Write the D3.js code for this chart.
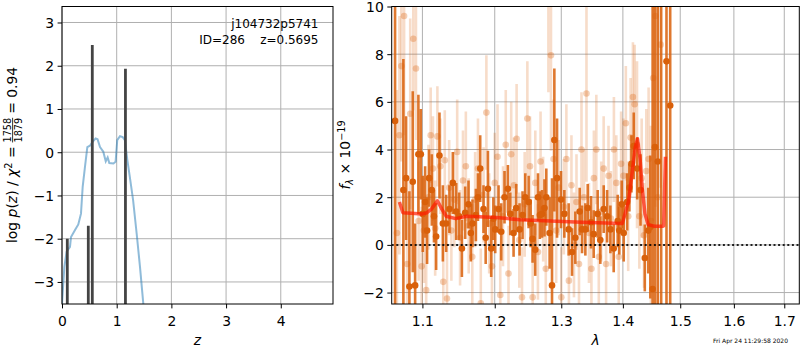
<!DOCTYPE html>
<html lang="en">
<head>
<meta charset="UTF-8">
<title>Redshift fit</title>
<script src="https://d3js.org/d3.v7.min.js"></script>
<style>
  body { margin: 0; background: #fff; }
  svg { display: block; font-family: "DejaVu Sans", sans-serif; }
  .tick line { stroke: #000; }
</style>
</head>
<body>
<div id="chart"></div>
<script>
// ---- left panel: redshift PDF ----
const zGrid = [0.0, 0.012, 0.043, 0.085, 0.146, 0.165, 0.238, 0.298, 0.347, 0.378, 0.42, 0.463, 0.51, 0.56,
  0.615, 0.65, 0.695, 0.755, 0.80, 0.835, 0.865, 0.94, 0.98, 1.01, 1.06, 1.11, 1.15, 1.195, 1.24, 1.30,
  1.365, 1.426, 1.49];
const chiCurve = [-3.5, -3.26, -2.65, -2.30, -2.19, -1.96, -1.80, -1.67, -1.42, -0.80, -0.34, 0.12, 0.15, 0.24,
  0.32, 0.30, 0.12, 0.01, -0.21, -0.12, -0.25, -0.26, -0.22, 0.28, 0.37, 0.35, 0.28, -0.18, -0.57, -1.11,
  -1.88, -2.65, -3.55];
const peakZ = [0.097, 0.481, 0.554, 1.16];
const peakLogP = [-2.0, -1.7, 2.48, 1.93];
const zTicks = [0, 1, 2, 3, 4];
const logTicks = [-3, -2, -1, 0, 1, 2, 3];

// ---- right panel: spectrum ----
// [wavelength, flux, error]
const darkSpec = [
  [1.0644,5.2,20],[1.0751,2.3,5.5],[1.0786,2.8,2.6],[1.0829,-1.75,4.0],[1.0873,2.65,3.8],[1.0904,-1.7,2.6],
  [1.0947,3.8,2.5],[1.0979,3.8,1.9],[1.1005,1.3,1.6],[1.1036,1.8,1.5],[1.1062,0.6,1.4],[1.1089,2.8,1.2],
  [1.1125,2.3,1.5],[1.1154,1.2,1.1],[1.1183,0.35,1.4],[1.1228,3.75,1.8],[1.1274,0.9,1.6],[1.1319,0.9,1.2],
  [1.1364,1.5,1.0],[1.1410,2.6,1.3],[1.1456,1.4,1.2],[1.1497,1.2,1.0],[1.1535,-0.15,1.2],[1.1581,1.35,1.1],
  [1.1627,1.7,1.0],[1.1660,0.5,1.2],[1.1683,0.9,1.0],[1.1731,1.25,1.1],[1.1760,2.0,1.0],[1.1792,3.2,1.4],
  [1.1839,1.5,1.0],[1.1870,0.3,1.1],[1.1902,2.35,1.6],[1.1949,-0.15,1.2],[1.1980,1.1,0.9],[1.2007,0.65,1.0],
  [1.2055,1.5,1.0],[1.2094,0.55,1.2],[1.2142,2.0,1.1],[1.2192,2.35,1.0],[1.2226,1.3,0.9],[1.2275,0.5,1.0],
  [1.2314,1.55,1.0],[1.2364,0.65,1.1],[1.2408,1.25,1.0],[1.2449,2.0,1.0],[1.2499,1.8,1.1],[1.2530,0.9,1.0],
  [1.2559,0.25,1.0],[1.2599,-0.2,1.1],[1.2641,2.0,1.0],[1.2670,1.25,1.0],[1.2702,1.3,1.0],[1.2740,1.55,1.2],
  [1.2768,2.0,1.2],[1.2819,0.5,1.5],[1.2856,-1.7,4.5],[1.2892,4.4,3.0],[1.2934,2.8,2.5],[1.2996,1.9,1.2],
  [1.3048,1.3,1.0],[1.3116,0.65,1.1],[1.3169,-0.3,1.0],[1.3222,0.3,1.1],[1.3291,1.4,1.0],[1.3329,0.65,1.0],
  [1.3382,0.65,1.1],[1.3420,1.55,1.0],[1.3474,0.95,1.1],[1.3517,0.45,1.0],[1.3582,1.3,1.0],[1.3625,0.2,1.0],
  [1.3681,1.5,1.0],[1.3737,1.2,1.1],[1.3791,0.65,1.0],[1.3846,-0.15,1.0],[1.3913,1.0,1.1],[1.3940,0.6,1.0],
  [1.3980,1.7,1.0],[1.4014,0.5,1.2],[1.4072,1.8,1.2],[1.4110,2.4,1.0],[1.4145,3.4,1.2],[1.4184,4.15,1.4],
  [1.4243,3.2,1.3],[1.4300,2.3,1.5],[1.4374,-0.55,1.4],[1.4434,0.6,1.8],[1.4470,0.75,3.0],[1.4510,-1.85,15],
  [1.4550,4.1,15],[1.4600,3.5,15],[1.4660,12,15],[1.4754,7.7,15],[1.4820,5.85,15]
];
const lightSpec = [
  [1.0668,0.5,6],[1.0700,4.6,5],[1.0725,7.5,4],[1.0760,9.6,5],[1.0800,-0.8,3.5],[1.0840,5.5,4],
  [1.0880,8.65,3],[1.0915,7.4,3],[1.0950,1.0,2.5],[1.0990,-0.9,2.5],[1.1020,0.6,2.2],[1.1050,-1.9,2.5],
  [1.1080,2.0,2.2],[1.1110,4.6,2.0],[1.1140,3.2,2.2],[1.1170,0.7,2.0],[1.1200,4.55,2.1],[1.1240,3.3,2.0],
  [1.1280,-1.55,2.2],[1.1300,3.55,2.1],[1.1330,-2.25,2.3],[1.1360,2.4,2.0],[1.1390,0.6,2.1],[1.1430,1.9,2.0],
  [1.1470,3.9,2.2],[1.1510,0.3,2.0],[1.1550,2.7,2.1],[1.1590,3.3,2.3],[1.1630,0.8,2.0],[1.1680,-0.5,2.2],
  [1.1720,1.9,2.0],[1.1760,3.2,2.1],[1.1800,-2.45,2.3],[1.1840,2.1,2.0],[1.1880,5.55,2.4],[1.1920,0.9,2.1],
  [1.1960,-0.9,2.0],[1.2000,2.6,2.1],[1.2040,3.7,2.2],[1.2080,-2.1,2.0],[1.2120,1.2,2.1],[1.2160,4.2,2.3],
  [1.2200,-1.2,2.0],[1.2240,3.8,2.2],[1.2280,2.5,2.0],[1.2320,4.45,2.3],[1.2360,0.2,2.0],[1.2400,-2.2,2.1],
  [1.2440,1.7,2.2],[1.2480,5.3,2.4],[1.2520,3.3,2.1],[1.2560,-2.2,2.0],[1.2600,2.6,2.2],[1.2640,-0.3,2.0],
  [1.2680,3.5,2.1],[1.2720,1.5,2.2],[1.2760,-1.0,2.3],[1.2800,10.4,4],[1.2840,7.95,4],[1.2880,3.6,2.5],
  [1.2920,0.6,2.2],[1.2960,2.4,2.0],[1.3000,-2.2,2.1],[1.3040,1.6,2.0],[1.3080,3.6,2.3],[1.3120,-1.5,2.0],
  [1.3160,2.5,2.1],[1.3200,0.0,2.2],[1.3240,1.8,2.0],[1.3280,-0.8,2.1],[1.3320,4.0,2.4],[1.3360,2.0,2.0],
  [1.3400,6.35,3.7],[1.3440,0.5,2.1],[1.3480,-1.0,2.2],[1.3520,2.8,2.0],[1.3560,4.0,2.3],[1.3600,-0.5,2.0],
  [1.3640,1.4,2.1],[1.3680,3.2,2.2],[1.3720,-0.8,2.0],[1.3760,2.9,2.1],[1.3800,1.1,2.0],[1.3850,4.0,2.2],
  [1.3890,2.6,2.0],[1.3930,-0.5,2.1],[1.3970,3.4,2.2],[1.4010,2.9,2.4],[1.4050,5.1,2.4],[1.4090,1.2,2.3],
  [1.4130,4.5,2.5],[1.4170,6.2,2.3],[1.4200,5.9,2.5],[1.4240,4.2,3.5],[1.4280,1.2,2.2],[1.4320,2.8,2.5],
  [1.4360,0.4,2.2],[1.4400,3.1,2.6],[1.4440,3.6,3.0],[1.4480,1.0,4.0],[1.4520,7.0,6],[1.4560,9.6,8],
  [1.4600,2.0,8],[1.4650,8.4,6]
];
const modelWave = [1.070, 1.0745, 1.085, 1.100, 1.106, 1.112, 1.120, 1.126, 1.132, 1.145, 1.160, 1.2027,
  1.237, 1.283, 1.332, 1.399, 1.4014, 1.4097, 1.4153, 1.421, 1.4248, 1.4293, 1.4331, 1.4377, 1.4432,
  1.4545, 1.4683, 1.4705, 1.4735];
const modelFlux = [1.8, 1.35, 1.33, 1.3, 1.35, 1.5, 1.85, 1.5, 1.2, 1.1, 1.2, 1.15,
  1.05, 1.0, 0.95, 0.9, 1.1, 1.85, 2.95, 4.1, 4.45, 3.6, 2.35, 1.3, 0.85,
  0.78, 0.78, 0.8, 3.7];
const lamTicks = [1.1, 1.2, 1.3, 1.4, 1.5, 1.6, 1.7];
const fluxTicks = [-2, 0, 2, 4, 6, 8, 10];

const W = 800, H = 350;
const FS = "13.9px";
const svg = d3.select("#chart").append("svg").attr("width", W).attr("height", H);

const gridColor = "#b0b0b0";
const orange = "#d9600a";

function axesFrame(g, x0, x1, y0, y1) {
  g.append("rect").attr("x", x0).attr("y", y0).attr("width", x1 - x0).attr("height", y1 - y0)
    .attr("fill", "none").attr("stroke", "#000").attr("stroke-width", 1);
}

function drawGrid(g, xs, ys, xt, yt, box) {
  g.selectAll(".vg").data(xt).enter().append("line")
    .attr("x1", d => xs(d)).attr("x2", d => xs(d)).attr("y1", box.y0).attr("y2", box.y1)
    .attr("stroke", gridColor).attr("stroke-width", 1);
  g.selectAll(".hg").data(yt).enter().append("line")
    .attr("x1", box.x0).attr("x2", box.x1).attr("y1", d => ys(d)).attr("y2", d => ys(d))
    .attr("stroke", gridColor).attr("stroke-width", 1);
}

function drawAxes(xs, ys, xt, yt, box, xfmt, yfmt) {
  const ax = svg.append("g").attr("transform", `translate(0,${box.y1})`)
    .call(d3.axisBottom(xs).tickValues(xt).tickFormat(xfmt).tickSize(4.4).tickPadding(4.4));
  ax.select(".domain").remove();
  ax.selectAll("text").attr("dy", "0").attr("y", 21.5);
  const ay = svg.append("g").attr("transform", `translate(${box.x0},0)`)
    .call(d3.axisLeft(ys).tickValues(yt).tickFormat(yfmt).tickSize(4.4).tickPadding(3.5));
  ay.select(".domain").remove();
  ay.selectAll("text").attr("dy", "0.36em");
  [ax, ay].forEach(a => a.selectAll("text")
    .style("font-family", "DejaVu Sans").style("font-size", FS).style("fill", "#000"));
}

// ================= LEFT =================
const boxL = {x0: 62, x1: 333, y0: 6.5, y1: 304};
const xz = d3.scaleLinear().domain([0, 4.955]).range([boxL.x0, boxL.x1]);
const yL = d3.scaleLinear().domain([-3.51, 3.37]).range([boxL.y1, boxL.y0]);

svg.append("clipPath").attr("id", "clipL").append("rect")
  .attr("x", boxL.x0).attr("y", boxL.y0).attr("width", boxL.x1 - boxL.x0).attr("height", boxL.y1 - boxL.y0);

const gL = svg.append("g");
drawGrid(gL, xz, yL, zTicks, logTicks, boxL);

const plotL = gL.append("g").attr("clip-path", "url(#clipL)");
plotL.append("path")
  .datum(zGrid.map((z, i) => [z, chiCurve[i]]))
  .attr("fill", "none").attr("stroke", "#1f77b4").attr("stroke-opacity", 0.5).attr("stroke-width", 2)
  .attr("d", d3.line().x(d => xz(d[0])).y(d => yL(d[1])));

plotL.selectAll(".peak").data(peakZ).enter().append("line")
  .attr("x1", d => xz(d)).attr("x2", d => xz(d))
  .attr("y1", yL(-3.6)).attr("y2", (d, i) => yL(peakLogP[i]))
  .attr("stroke", "#444").attr("stroke-width", 2.8);

axesFrame(svg, boxL.x0, boxL.x1, boxL.y0, boxL.y1);
drawAxes(xz, yL, zTicks, logTicks, boxL, d3.format("d"), d3.format("d"));

svg.append("text").attr("x", 318.5).attr("y", 27.5).attr("text-anchor", "end")
  .style("font-size", "12px").text("j104732p5741");
svg.append("text").attr("x", 318.5).attr("y", 44).attr("text-anchor", "end")
  .style("font-size", "12px").style("white-space", "pre").text("ID=286    z=0.5695");

svg.append("text").attr("x", (boxL.x0 + boxL.x1) / 2).attr("y", 344.5).attr("text-anchor", "middle")
  .style("font-size", FS).style("font-style", "italic").text("z");

// y label with stacked fraction
const yl = svg.append("g").attr("transform", "translate(17,243) rotate(-90)").style("font-size", FS);
const t1 = yl.append("text").attr("x", 0).attr("y", 0);
t1.append("tspan").text("log ");
t1.append("tspan").style("font-style", "italic").text("p");
t1.append("tspan").text("(");
t1.append("tspan").style("font-style", "italic").text("z");
t1.append("tspan").text(") / ");
t1.append("tspan").style("font-style", "italic").text("χ");
t1.append("tspan").attr("dy", -5.5).style("font-size", "9.7px").text("2");
t1.append("tspan").attr("dy", 5.5).text(" =");
const w1 = t1.node().getComputedTextLength() + 4;
const num = yl.append("text").attr("x", w1).attr("y", -6.5).style("font-size", "9.7px").text("1758");
const den = yl.append("text").attr("x", w1).attr("y", 4.5).style("font-size", "9.7px").text("1879");
const wf = Math.max(num.node().getComputedTextLength(), den.node().getComputedTextLength());
yl.append("line").attr("x1", w1).attr("x2", w1 + wf).attr("y1", -4.4).attr("y2", -4.4)
  .attr("stroke", "#000").attr("stroke-width", 0.8);
yl.append("text").attr("x", w1 + wf + 4).attr("y", 0).text("= 0.94");

// ================= RIGHT =================
const boxR = {x0: 391.7, x1: 799.3, y0: 6.5, y1: 304};
const xl = d3.scaleLog().domain([1.0601, 1.731]).range([boxR.x0, boxR.x1]);
const yR = d3.scaleLinear().domain([-2.48, 10]).range([boxR.y1, boxR.y0]);

svg.append("clipPath").attr("id", "clipR").append("rect")
  .attr("x", boxR.x0).attr("y", boxR.y0).attr("width", boxR.x1 - boxR.x0).attr("height", boxR.y1 - boxR.y0);

const gR = svg.append("g");
drawGrid(gR, xl, yR, lamTicks, fluxTicks, boxR);
const plotR = gR.append("g").attr("clip-path", "url(#clipR)");

function drawSpec(data, barOpacity, dotOpacity) {
  const g = plotR.append("g");
  g.selectAll("line").data(data).enter().append("line")
    .attr("x1", d => xl(d[0])).attr("x2", d => xl(d[0]))
    .attr("y1", d => yR(d[1] - d[2])).attr("y2", d => yR(d[1] + d[2]))
    .attr("stroke", orange).attr("stroke-opacity", barOpacity).attr("stroke-width", 2.6);
  g.selectAll("circle").data(data).enter().append("circle")
    .attr("cx", d => xl(d[0])).attr("cy", d => yR(d[1])).attr("r", 3.3)
    .attr("fill", orange).attr("fill-opacity", dotOpacity);
}
drawSpec(lightSpec, 0.22, 0.3);
drawSpec(darkSpec, 0.85, 1);

plotR.append("path")
  .datum(modelWave.map((w, i) => [w, modelFlux[i]]))
  .attr("fill", "none").attr("stroke", "#ff1a00").attr("stroke-opacity", 0.7).attr("stroke-width", 3.5)
  .attr("stroke-linejoin", "round")
  .attr("d", d3.line().x(d => xl(d[0])).y(d => yR(d[1])));

plotR.append("line").attr("x1", boxR.x0).attr("x2", boxR.x1).attr("y1", yR(0)).attr("y2", yR(0))
  .attr("stroke", "#000").attr("stroke-width", 2).attr("stroke-dasharray", "2,2.6").attr("stroke-opacity", 0.85);

axesFrame(svg, boxR.x0, boxR.x1, boxR.y0, boxR.y1);
drawAxes(xl, yR, lamTicks, fluxTicks, boxR, d3.format(".1f"), d3.format("d"));

svg.append("text").attr("x", (boxR.x0 + boxR.x1) / 2).attr("y", 344.5).attr("text-anchor", "middle")
  .style("font-size", FS).style("font-style", "italic").text("λ");

const ylr = svg.append("text").attr("transform", "translate(350,155) rotate(-90)")
  .attr("text-anchor", "middle").style("font-size", FS);
ylr.append("tspan").style("font-style", "italic").text("f");
ylr.append("tspan").attr("dy", 3).style("font-size", "9.7px").style("font-style", "italic").text("λ");
ylr.append("tspan").attr("dy", -3).text(" × 10");
ylr.append("tspan").attr("dy", -5.5).style("font-size", "9.7px").text("−19");

svg.append("text").attr("x", 788).attr("y", 342.5).attr("text-anchor", "end")
  .style("font-size", "6px").text("Fri Apr 24 11:29:58 2020");
</script>
</body>
</html>
